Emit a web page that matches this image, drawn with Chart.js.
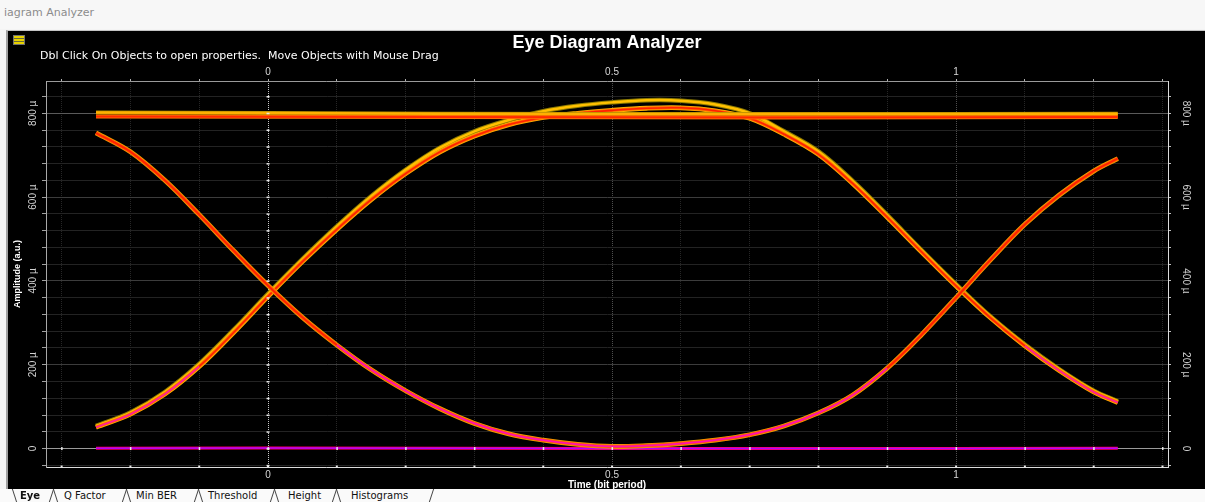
<!DOCTYPE html>
<html>
<head>
<meta charset="utf-8">
<title>Eye Diagram Analyzer</title>
<script src="https://cdn.jsdelivr.net/npm/chart.js@4.4.1/dist/chart.umd.min.js"></script>
<style>
  html, body { margin: 0; padding: 0; width: 1205px; height: 502px; overflow: hidden; background: #f4f4f4; }
  #winbar { position: absolute; left: 0; top: 0; width: 1205px; height: 29px; background: #f7f7f7; }
  #winbar span { position: absolute; left: 4px; top: 6px; font: 11px "DejaVu Sans", sans-serif; color: #8c8c8c; }
  #frame { position: absolute; left: 6px; top: 30px; width: 1199px; height: 459px; background: #000;
           border-left: 2px solid #a0a0a0; border-top: 1px solid #c4c4c4; box-sizing: border-box; }
  #wrap { position: absolute; left: 9px; top: 32px; width: 1196px; height: 457px; }
  #icon { position: absolute; left: 13px; top: 35px; width: 12px; height: 10px; background: #e8d200;
          border: 1px solid #707070; box-sizing: border-box;
          background-image: linear-gradient(#e8d200 0 2px, #6a6a3a 2px 3px, #e8d200 3px 5px, #6a6a3a 5px 6px, #e8d200 6px); }
  #tabs { position: absolute; left: 0; top: 489px; width: 1205px; height: 13px; background: #fafafa; }
  #tabs span { position: absolute; top: 0; font: 10px "DejaVu Sans", sans-serif; color: #111; line-height: 13px; }
  #tabs .sep { position: absolute; top: 0; width: 0; height: 13px; border-left: 1px solid #444; }
  #tabs .l { transform: skewX(-18deg); }
  #tabs .r { transform: skewX(18deg); }
</style>
</head>
<body>
<div id="winbar"><span>iagram Analyzer</span></div>
<div id="frame"></div>
<div id="wrap"><canvas id="eye" width="1196" height="457"></canvas></div>
<div id="icon"></div>
<div id="tabs">
  <div class="sep r" style="left:14px"></div>
  <span style="left:20px;font-weight:bold">Eye</span>
  <div class="sep l" style="left:51px"></div><div class="sep r" style="left:55px"></div>
  <span style="left:64px">Q Factor</span>
  <div class="sep l" style="left:124px"></div><div class="sep r" style="left:128px"></div>
  <span style="left:136px">Min BER</span>
  <div class="sep l" style="left:196px"></div><div class="sep r" style="left:200px"></div>
  <span style="left:208px">Threshold</span>
  <div class="sep l" style="left:272px"></div><div class="sep r" style="left:276px"></div>
  <span style="left:288px">Height</span>
  <div class="sep l" style="left:334px"></div><div class="sep r" style="left:338px"></div>
  <span style="left:351px">Histograms</span>
  <div class="sep l" style="left:431px"></div>
</div>

<script>
// sample instants (bit periods) for the transition traces
const bitTime = [-0.25, -0.2, -0.15, -0.1, -0.05, 0, 0.05, 0.1, 0.15, 0.2, 0.25, 0.3, 0.35, 0.4, 0.45,
                 0.5, 0.55, 0.6, 0.65, 0.7, 0.75, 0.8, 0.85, 0.9, 0.95, 1.0, 1.05, 1.1, 1.15, 1.2, 1.235];

// amplitudes in micro units (a.u. x 1e-6)
// 0 -> 1 -> 0 : rising edge, overshoot, falling edge
const riseFall     = [51, 82, 130, 196, 277, 363, 446, 523, 594, 656, 708, 746, 773, 790, 800,
                      807, 812, 813, 806, 788, 750, 702, 632, 552, 469, 388, 312, 245, 186, 135, 110];
// upper edge of the same bundle (overshoot spread)
const riseFallHigh = [54, 86, 135, 202, 283, 369, 452, 530, 602, 665, 718, 757, 784, 805, 818,
                      826, 831, 830, 821, 800, 757, 709, 638, 557, 473, 392, 315, 248, 189, 138, 113];
// 1 -> 0 -> 1 : falling edge, bottom, rising edge
const fallRise     = [753, 708, 640, 558, 472, 389, 313, 247, 188, 138, 95, 60, 35, 20, 10,
                      5, 7, 12, 20, 33, 54, 85, 128, 192, 272, 360, 450, 535, 605, 662, 692];

// steady levels
const levelTime  = [-0.25, 0.25, 0.75, 1.235];
const onesHigh   = [802, 799, 798, 799];
const onesLow    = [792, 791, 790, 791];
const zerosLevel = [1, 1, 0, 1];

// axes
const X_MIN = -0.3227, X_MAX = 1.308;
const Y_MIN = -44, Y_MAX = 877;
const timeLabels = [0, 0.5, 1];
const ampLabels = [0, 200, 400, 600, 800];
const gridTimes = [-0.3, -0.2, -0.1, 0, 0.1, 0.2, 0.3, 0.4, 0.5, 0.6, 0.7, 0.8, 0.9, 1, 1.1, 1.2, 1.3];
const gridAmps = [-40, 0, 40, 80, 120, 160, 200, 240, 280, 320, 360, 400, 440, 480, 520, 560,
                  600, 640, 680, 720, 760, 800, 840];

const pts = (xs, ys) => xs.map((x, i) => ({ x: x, y: ys[i] }));
const near = (v, list) => list.some(t => Math.abs(t - v) < 1e-6);

// one bundle = stacked strokes, widest first
function bundle(xs, ys, layers) {
  return layers.map(l => ({
    data: pts(xs, ys),
    borderColor: l.color,
    borderWidth: l.width,
    segment: l.low ? { borderColor: c => (c.p0.parsed.y < l.lowBelow && c.p1.parsed.y < l.lowBelow) ? l.low : l.color } : undefined,
    pointRadius: 0,
    tension: 0.35,
    fill: false
  }));
}

let datasets = [];
datasets = datasets.concat(
  bundle(levelTime, zerosLevel, [{ color: '#ff0060', width: 3 }, { color: '#b000ff', width: 1.5 }]),
  bundle(bitTime, riseFallHigh, [{ color: '#8c7a00', width: 4.5 }, { color: '#ffc000', width: 2.5 }]),
  bundle(bitTime, riseFall,     [{ color: '#ffb000', width: 4.8 }, { color: '#ff6a00', width: 3.2 },
                                 { color: '#ff2000', width: 1.6, low: '#ff1aa0', lowBelow: 250 }]),
  bundle(bitTime, fallRise,     [{ color: '#f0a000', width: 4.8 }, { color: '#ff5a00', width: 3.4 },
                                 { color: '#ff2000', width: 1.8, low: '#ff10b0', lowBelow: 260 }]),
  bundle(levelTime, onesHigh,   [{ color: '#b08c00', width: 4 }, { color: '#ffb000', width: 2.5 }]),
  bundle(levelTime, onesLow,    [{ color: '#ff7000', width: 4 }, { color: '#ff2a00', width: 2 }])
);
// dataset 0 is painted last, so put the thin cores first
datasets.reverse();

function xGridColor(c) {
  const v = c.tick.value;
  if (Math.abs(v) < 1e-6) return '#c8c8c8';
  if (near(v, [0.5, 1])) return '#4e4e4e';
  return '#262626';
}
function yGridColor(c) {
  const v = c.tick.value;
  if (Math.abs(v) < 1e-6) return '#9a9a9a';
  if (v === 800) return '#5a5a5a';
  if (near(v, ampLabels)) return '#3c3c3c';
  return '#232323';
}
const ampText = v => v === 0 ? '0' : v + ' \u00b5';

// rotated amplitude labels, subtitle and the small marks on the zero axes
const decorations = {
  id: 'decorations',
  afterDraw(chart) {
    const { ctx, chartArea: a } = chart;
    const x = chart.scales.x, y = chart.scales.y;
    ctx.save();
    ctx.fillStyle = '#ffffff';
    ctx.font = '11px "DejaVu Sans", sans-serif';
    ctx.textBaseline = 'middle';
    ctx.textAlign = 'left';
    ctx.fillText('Dbl Click On Objects to open properties.  Move Objects with Mouse Drag', 31, 24);

    ctx.font = '10px "Liberation Sans", sans-serif';
    ctx.fillStyle = '#d4d4d4';
    ctx.textAlign = 'center';
    ampLabels.forEach(v => {
      const py = y.getPixelForValue(v);
      ctx.save(); ctx.translate(24, py); ctx.rotate(-Math.PI / 2); ctx.fillText(ampText(v), 0, 0); ctx.restore();
      ctx.save(); ctx.translate(1177, py); ctx.rotate(Math.PI / 2); ctx.fillText(ampText(v), 0, 0); ctx.restore();
    });

    // tick marks along the x = 0 and y = 0 lines
    ctx.fillStyle = '#e8e8e8';
    const x0 = x.getPixelForValue(0), y0 = y.getPixelForValue(0);
    gridAmps.forEach(v => ctx.fillRect(x0 - 1.5, y.getPixelForValue(v) - 0.5, 3, 1.5));
    gridTimes.forEach(v => ctx.fillRect(x.getPixelForValue(v) - 0.5, y0 - 1.5, 1.5, 3));
    gridTimes.forEach(v => ctx.fillRect(x.getPixelForValue(v) - 1, a.bottom - 1.5, 2, 2));
    ctx.restore();
  }
};

new Chart(document.getElementById('eye'), {
  type: 'line',
  data: { datasets: datasets },
  plugins: [decorations],
  options: {
    responsive: false,
    animation: false,
    devicePixelRatio: 1,
    layout: { padding: 0 },
    plugins: {
      legend: { display: false },
      tooltip: { enabled: false },
      title: {
        display: true,
        text: 'Eye Diagram Analyzer',
        color: '#ffffff',
        font: { family: '"Liberation Sans", Arial, sans-serif', size: 18, weight: 'bold' },
        padding: { top: 0, bottom: 13.4 }
      }
    },
    scales: {
      x: {
        type: 'linear', position: 'bottom', min: X_MIN, max: X_MAX,
        afterBuildTicks: s => { s.ticks = gridTimes.map(v => ({ value: v })); },
        afterFit: s => { s.height = 22; },
        ticks: {
          autoSkip: false, maxRotation: 0, padding: 2, color: '#d8d8d8',
          font: { family: '"Liberation Sans", sans-serif', size: 10 },
          callback: v => near(v, timeLabels) ? String(+v.toFixed(1)) : ''
        },
        grid: { color: xGridColor, drawTicks: false },
        border: { color: '#dcdcdc', dash: [1, 1] },
        title: {
          display: true, text: 'Time (bit period)', color: '#ffffff', padding: { top: 0, bottom: -2 },
          font: { family: '"Liberation Sans", sans-serif', size: 10, weight: 'bold' }
        }
      },
      x2: {
        type: 'linear', position: 'top', min: X_MIN, max: X_MAX,
        afterBuildTicks: s => { s.ticks = gridTimes.map(v => ({ value: v })); },
        afterFit: s => { s.height = 14; },
        ticks: {
          autoSkip: false, maxRotation: 0, padding: 1, color: '#d8d8d8',
          font: { family: '"Liberation Sans", sans-serif', size: 10 },
          callback: v => near(v, timeLabels) ? String(+v.toFixed(1)) : ''
        },
        grid: { drawOnChartArea: false, tickLength: 2, tickColor: '#b0b0b0' },
        border: { color: '#9a9a9a' }
      },
      y: {
        type: 'linear', position: 'left', min: Y_MIN, max: Y_MAX,
        afterBuildTicks: s => { s.ticks = gridAmps.map(v => ({ value: v })); },
        afterFit: s => { s.width = 37; },
        ticks: { display: false },
        grid: { color: yGridColor, tickLength: 4, tickColor: '#a0a0a0' },
        border: { color: '#a8a8a8' },
        title: {
          display: true, text: 'Amplitude (a.u.)', color: '#ffffff', padding: { top: 3, bottom: 0 },
          font: { family: '"Liberation Sans", sans-serif', size: 9, weight: 'bold' }
        }
      },
      y2: {
        type: 'linear', position: 'right', min: Y_MIN, max: Y_MAX,
        afterBuildTicks: s => { s.ticks = gridAmps.map(v => ({ value: v })); },
        afterFit: s => { s.width = 37; },
        ticks: { display: false },
        grid: { drawOnChartArea: false, tickLength: 3, tickColor: '#c0c0c0' },
        border: { color: '#dcdcdc', dash: [1, 1] }
      }
    }
  }
});
</script>
</body>
</html>
